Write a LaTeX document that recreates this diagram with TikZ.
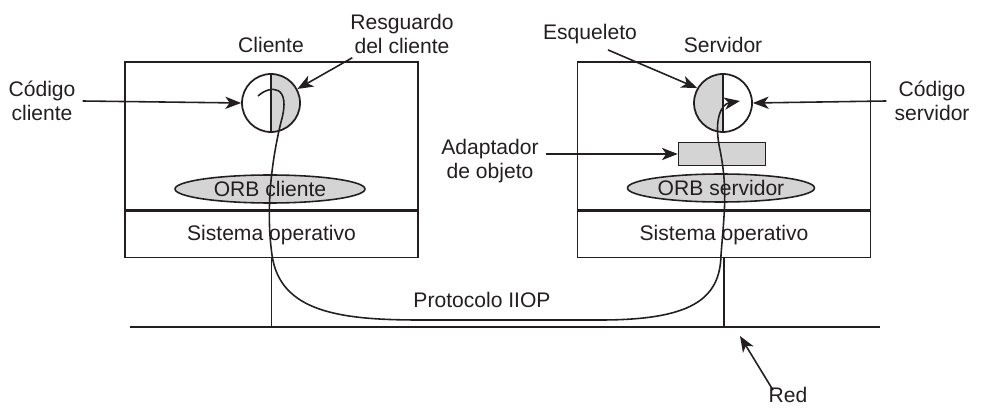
\documentclass[tikz,border=0pt]{standalone}
\usepackage{fontspec}
\setmainfont{Liberation Sans}
\usepackage{tikz}
\usetikzlibrary{shapes}
\usetikzlibrary{arrows.meta}
\definecolor{ink}{HTML}{231F20}
\definecolor{orbgrey}{HTML}{D4D4D4}
\tikzset{
  label_text/.style = {align=center, inner sep=1pt, text=ink,
    font=\fontsize{12}{13.5}\selectfont},
  host_box/.style = {rectangle, draw=ink, line width=0.9pt, minimum width=5.86cm},
  os_box/.style = {host_box, label_text, minimum height=0.92cm},% sistema operativo
  orb_node/.style = {ellipse, draw=ink, fill=orbgrey, label_text, line width=0.9pt,
    inner sep=0pt, minimum width=3.8cm, minimum height=0.56cm},
  rpc_circle/.style = {circle, draw=ink, line width=1pt, minimum size=1.16cm, inner sep=0pt},
  stub_node/.style = {rpc_circle, path picture={
      \fill[orbgrey] (path picture bounding box.north) rectangle (path picture bounding box.south east);
      \draw[ink, line width=1pt] (path picture bounding box.north) -- (path picture bounding box.south);}},% resguardo
  skel_node/.style = {rpc_circle, path picture={
      \fill[orbgrey] (path picture bounding box.north) rectangle (path picture bounding box.south west);
      \draw[ink, line width=1pt] (path picture bounding box.north) -- (path picture bounding box.south);}},% esqueleto
  adapt_node/.style = {rectangle, draw=ink, fill=orbgrey, line width=0.9pt,
    minimum width=1.74cm, minimum height=0.46cm},
  pointer/.style = {draw=ink, line width=0.9pt, -{Stealth[length=9pt, width=7pt, inset=2.5pt]}}
}
\begin{document}
\begin{tikzpicture}[x=0.02cm, y=-0.02cm]
  \useasboundingbox (0,0) rectangle (982,408);
  % cliente
  \node [host_box, minimum height=2.96cm] (host_cli) at (271.5,136) {};
  \node [os_box, anchor=north] (os_cli) at (host_cli.south) {Sistema operativo};
  \node [label_text] (t_cli) at (271,45) {Cliente};
  \node [orb_node] (orb_cli) at (270,189) {ORB cliente};
  \node [stub_node] (stub) at (271,103) {};
  % servidor
  \node [host_box, minimum height=2.96cm] (host_srv) at (724,136) {};
  \node [os_box, anchor=north] (os_srv) at (host_srv.south) {Sistema operativo};
  \node [label_text] (t_srv) at (723,45) {Servidor};
  \node [orb_node, minimum width=3.74cm] (orb_srv) at (721,188) {ORB servidor};
  \node [adapt_node] (obj_adapt) at (722,154) {};
  \node [skel_node] (skel) at (723,103) {};
  % red
  \coordinate (net_w) at (130,327);
  \coordinate (net_e) at (880,327);
  \coordinate (red_pt) at (740,336);
  \draw [ink, line width=0.9pt] (net_w) -- (net_e);
  \draw [ink, line width=0.9pt] (os_cli.south) -- (os_cli.south |- net_w);
  \draw [ink, line width=0.9pt] (os_srv.south) -- (os_srv.south |- net_w);
  % etiquetas
  \node [label_text] (cod_cli) at (42,101) {Código\\cliente};
  \node [label_text] (resg) at (402,34) {Resguardo\\del cliente};
  \node [label_text] (esq) at (590,34) {Esqueleto};
  \node [label_text] (cod_srv) at (932,101) {Código\\servidor};
  \node [label_text] (adapt) at (490,161) {Adaptador\\de objeto};
  \node [label_text] (iiop) at (482,300) {Protocolo IIOP};
  \node [label_text] (red) at (788,395) {Red};
  \draw [pointer] ([xshift=0.1cm]cod_cli.east) -- (stub.west);
  \draw [pointer] ([xshift=0.08cm, yshift=-0.04cm]resg.south west) -- (stub.28);
  \draw [pointer] ([xshift=0.36cm, yshift=-0.08cm]esq.south) -- (skel.150);
  \draw [pointer] ([xshift=-0.12cm]cod_srv.west) -- (skel.east);
  \draw [pointer] ([xshift=0.1cm]adapt.east |- obj_adapt.west) -- (obj_adapt.west);
  \draw [pointer] ([xshift=-0.3cm, yshift=-0.1cm]red.north) -- (red_pt);
  % llamada
  \draw [pointer] (258,96) .. controls (270,85) and (292,84) .. (281,122)
    .. controls (273,155) and (265,205) .. (272,255)
    .. controls (280,312) and (340,320) .. (420,320) -- (600,320)
    .. controls (690,320) and (720,300) .. (721,255)
    .. controls (724,215) and (728,190) .. (720,150)
    .. controls (713,118) and (722,104) .. (740,101);
\end{tikzpicture}
\end{document}
